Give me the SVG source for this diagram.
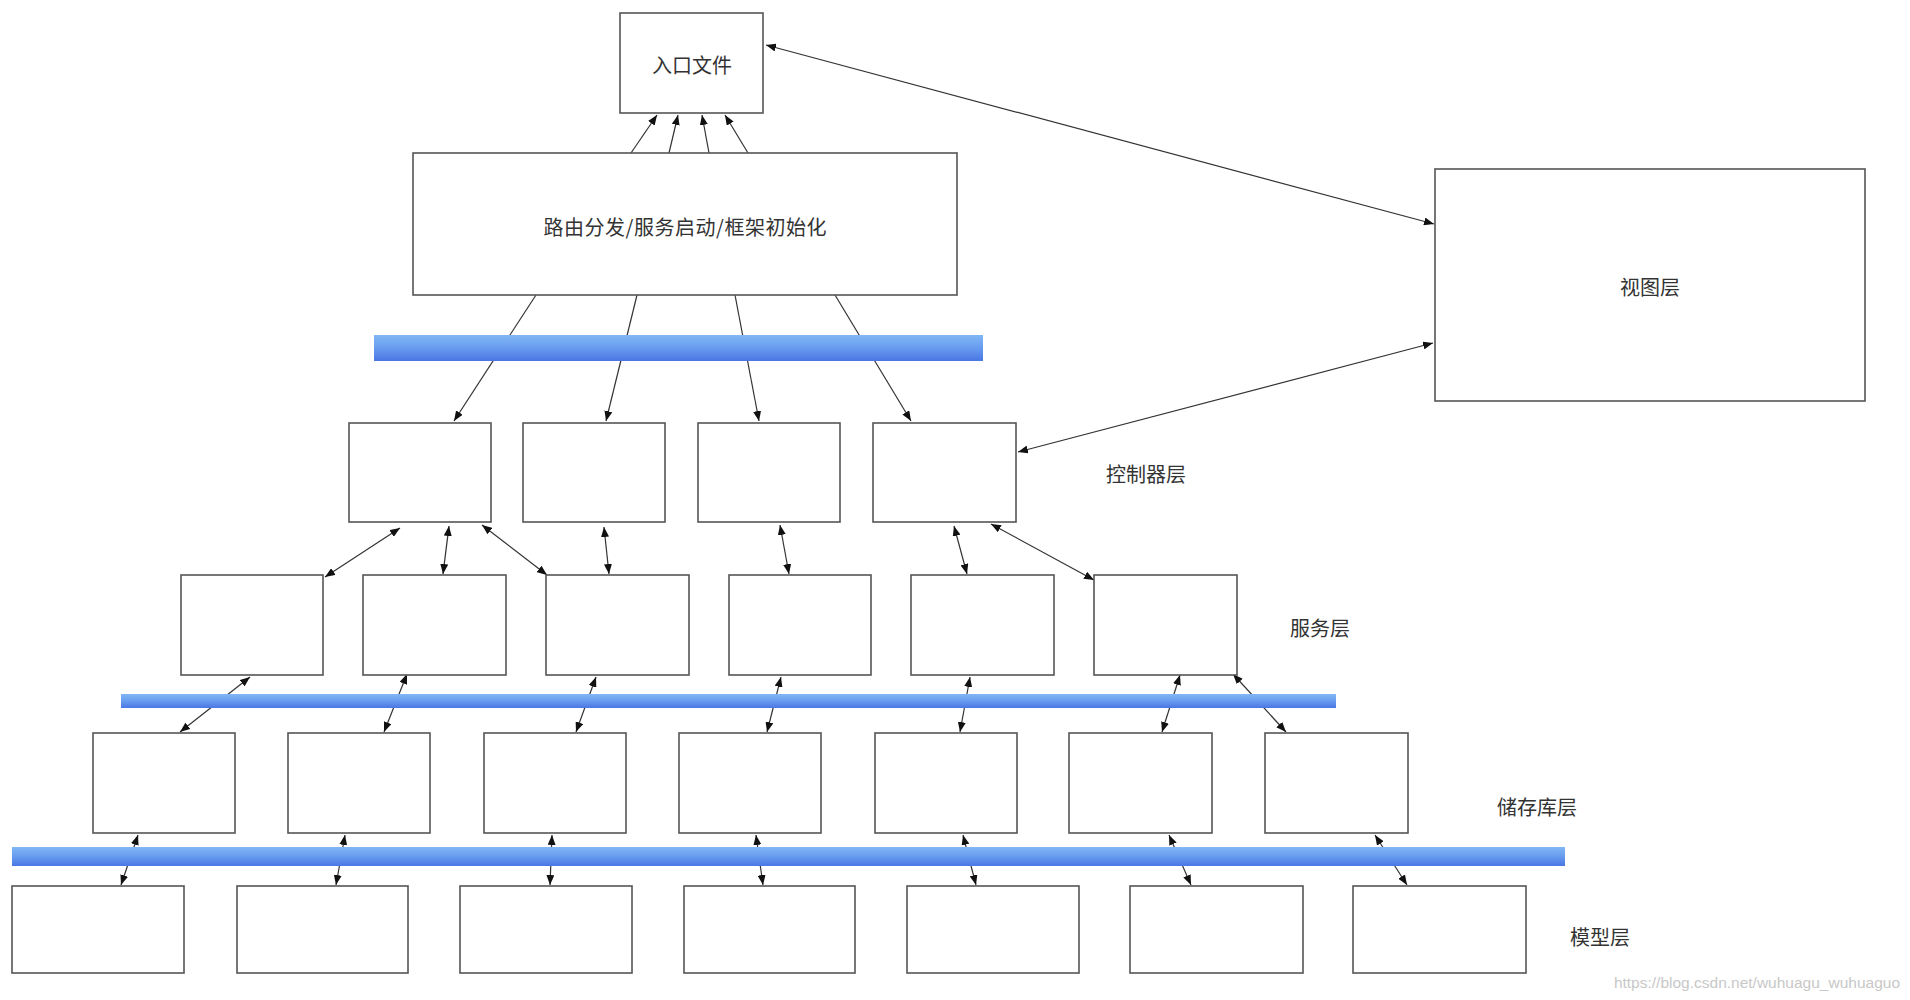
<svg xmlns="http://www.w3.org/2000/svg" width="1910" height="1000" viewBox="0 0 1910 1000">
<defs>
<style>
.box{fill:#fff;stroke:#555;stroke-width:1.6}
.lbl{font-family:"Noto Sans CJK SC","Noto Sans",sans-serif;font-size:20px;fill:#333;text-anchor:middle;dominant-baseline:central}
.c{stroke:#333;stroke-width:1.2;fill:none}
.one{marker-end:url(#arr)}
.two{marker-start:url(#arr);marker-end:url(#arr)}
.bar{fill:url(#blue)}
.wm{font-family:"Liberation Sans",Arial,sans-serif;font-size:15.5px;fill:#c8c8c8;text-anchor:end}
</style>
<linearGradient id="blue" x1="0" y1="0" x2="0" y2="1">
<stop offset="0" stop-color="#82b6f4"/>
<stop offset="0.45" stop-color="#6a9ff0"/>
<stop offset="1" stop-color="#4a76e4"/>
</linearGradient>
<marker id="arr" viewBox="0 0 10 8" refX="10" refY="4" markerWidth="10" markerHeight="8" markerUnits="userSpaceOnUse" orient="auto-start-reverse">
<path d="M0,0 L10,4 L0,8 z" fill="#111"/>
</marker>
</defs>
<rect width="1910" height="1000" fill="#fff"/>

<g id="connectors">
<line class="c one" x1="631" y1="153" x2="657" y2="115"/>
<line class="c one" x1="669" y1="153" x2="678" y2="115"/>
<line class="c one" x1="709" y1="153" x2="702" y2="115"/>
<line class="c one" x1="748" y1="153" x2="725" y2="115"/>
<line class="c one" x1="536" y1="295" x2="454" y2="421"/>
<line class="c one" x1="637" y1="295" x2="606" y2="421"/>
<line class="c one" x1="735" y1="295" x2="759" y2="421"/>
<line class="c one" x1="835" y1="295" x2="911" y2="421"/>
<line class="c two" x1="766" y1="45" x2="1434" y2="224"/>
<line class="c two" x1="1018" y1="452" x2="1433" y2="343"/>
<line class="c two" x1="400" y1="528" x2="325" y2="577"/>
<line class="c two" x1="449" y1="526" x2="443" y2="574"/>
<line class="c two" x1="482" y1="525" x2="547" y2="575"/>
<line class="c two" x1="604" y1="527" x2="609" y2="574"/>
<line class="c two" x1="780" y1="525" x2="789" y2="574"/>
<line class="c two" x1="954" y1="526" x2="967" y2="574"/>
<line class="c two" x1="991" y1="524" x2="1094" y2="580"/>
<line class="c two" x1="250" y1="677" x2="180" y2="732"/>
<line class="c two" x1="407" y1="674" x2="384" y2="732"/>
<line class="c two" x1="596" y1="677" x2="576" y2="732"/>
<line class="c two" x1="781" y1="677" x2="767" y2="732"/>
<line class="c two" x1="970" y1="677" x2="960" y2="732"/>
<line class="c two" x1="1180" y1="675" x2="1162" y2="732"/>
<line class="c two" x1="1233" y1="674" x2="1286" y2="732"/>
<line class="c two" x1="138" y1="835" x2="121" y2="885"/>
<line class="c two" x1="345" y1="835" x2="336" y2="885"/>
<line class="c two" x1="552" y1="835" x2="550" y2="885"/>
<line class="c two" x1="756" y1="835" x2="763" y2="885"/>
<line class="c two" x1="963" y1="835" x2="976" y2="885"/>
<line class="c two" x1="1169" y1="835" x2="1191" y2="885"/>
<line class="c two" x1="1375" y1="835" x2="1407" y2="885"/>
</g>

<g id="bars">
<rect class="bar" x="374" y="335" width="609" height="26"/>
<rect class="bar" x="121" y="694" width="1215" height="14"/>
<rect class="bar" x="12" y="847" width="1553" height="19"/>
</g>

<g id="entry"><rect class="box" x="620" y="13" width="143" height="100"/><text class="lbl" x="692" y="64">入口文件</text></g>
<g id="router"><rect class="box" x="413" y="153" width="544" height="142"/><text class="lbl" x="685" y="226" textLength="283" lengthAdjust="spacing">路由分发/服务启动/框架初始化</text></g>
<g id="view"><rect class="box" x="1435" y="169" width="430" height="232"/><text class="lbl" x="1650" y="286">视图层</text></g>

<g id="controller-1"><rect class="box" x="349" y="423" width="142" height="99"/></g>
<g id="controller-2"><rect class="box" x="523" y="423" width="142" height="99"/></g>
<g id="controller-3"><rect class="box" x="698" y="423" width="142" height="99"/></g>
<g id="controller-4"><rect class="box" x="873" y="423" width="143" height="99"/></g>
<g id="controller-label"><text class="lbl" x="1146" y="473">控制器层</text></g>

<g id="service-1"><rect class="box" x="181" y="575" width="142" height="100"/></g>
<g id="service-2"><rect class="box" x="363" y="575" width="143" height="100"/></g>
<g id="service-3"><rect class="box" x="546" y="575" width="143" height="100"/></g>
<g id="service-4"><rect class="box" x="729" y="575" width="142" height="100"/></g>
<g id="service-5"><rect class="box" x="911" y="575" width="143" height="100"/></g>
<g id="service-6"><rect class="box" x="1094" y="575" width="143" height="100"/></g>
<g id="service-label"><text class="lbl" x="1320" y="627">服务层</text></g>

<g id="repo-1"><rect class="box" x="93" y="733" width="142" height="100"/></g>
<g id="repo-2"><rect class="box" x="288" y="733" width="142" height="100"/></g>
<g id="repo-3"><rect class="box" x="484" y="733" width="142" height="100"/></g>
<g id="repo-4"><rect class="box" x="679" y="733" width="142" height="100"/></g>
<g id="repo-5"><rect class="box" x="875" y="733" width="142" height="100"/></g>
<g id="repo-6"><rect class="box" x="1069" y="733" width="143" height="100"/></g>
<g id="repo-7"><rect class="box" x="1265" y="733" width="143" height="100"/></g>
<g id="repo-label"><text class="lbl" x="1537" y="806">储存库层</text></g>

<g id="model-1"><rect class="box" x="12" y="886" width="172" height="87"/></g>
<g id="model-2"><rect class="box" x="237" y="886" width="171" height="87"/></g>
<g id="model-3"><rect class="box" x="460" y="886" width="172" height="87"/></g>
<g id="model-4"><rect class="box" x="684" y="886" width="171" height="87"/></g>
<g id="model-5"><rect class="box" x="907" y="886" width="172" height="87"/></g>
<g id="model-6"><rect class="box" x="1130" y="886" width="173" height="87"/></g>
<g id="model-7"><rect class="box" x="1353" y="886" width="173" height="87"/></g>
<g id="model-label"><text class="lbl" x="1600" y="936">模型层</text></g>

<text class="wm" x="1900" y="988">https://blog.csdn.net/wuhuagu_wuhuaguo</text>
</svg>
